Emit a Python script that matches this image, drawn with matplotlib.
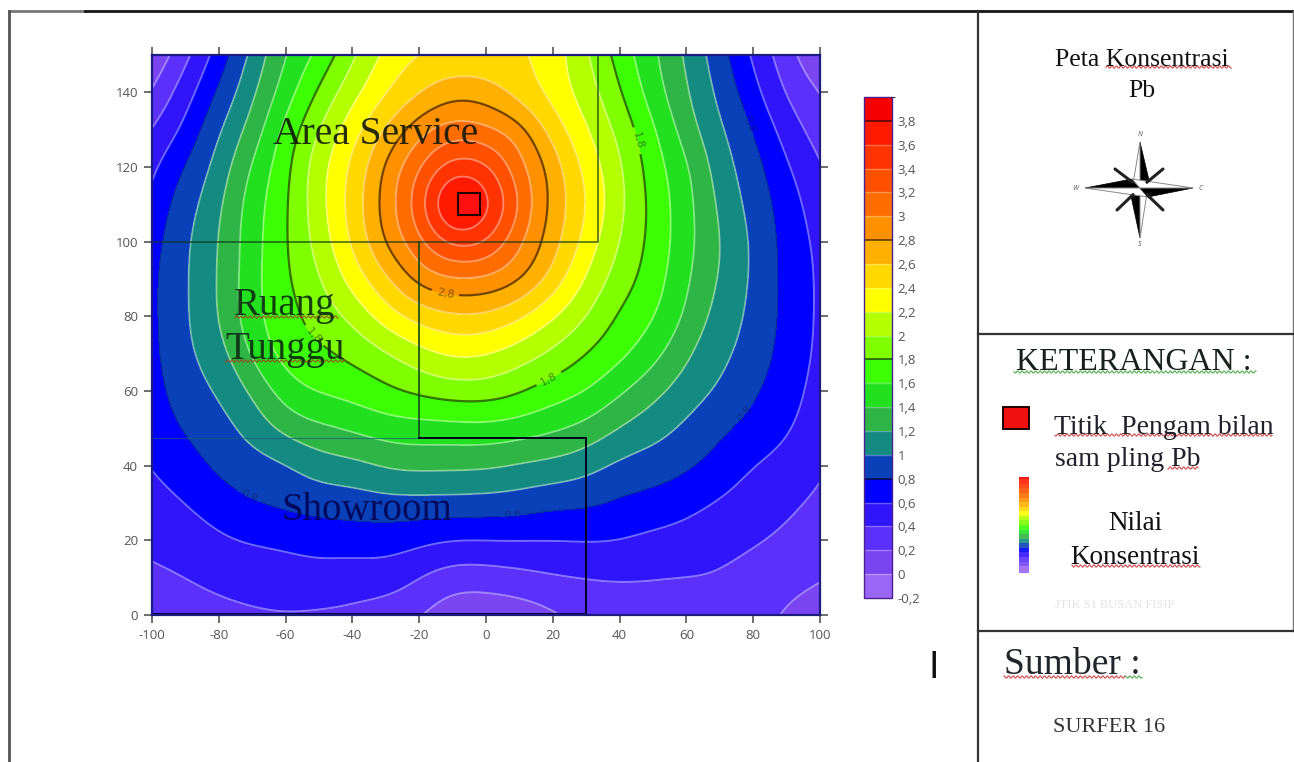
import numpy as np
import matplotlib
matplotlib.use("Agg")
import matplotlib.pyplot as plt
from matplotlib.colors import ListedColormap, BoundaryNorm
from matplotlib.patches import Polygon, Rectangle

plt.rcParams['axes.unicode_minus'] = False

# ---- data ----
grid_y = [0, 10, 20, 30, 40, 50, 60, 70, 80, 90, 100, 110, 120, 130, 140, 150]
grid_x = [-100, -90, -80, -70, -60, -50, -40, -30, -20, -10, 0, 10, 20, 30, 40, 50, 60, 70, 80, 90, 100]

col_m100 = [0.27, 0.36, 0.45, 0.53, 0.61, 0.68, 0.72, 0.75, 0.76, 0.76, 0.72, 0.66, 0.56, 0.41, 0.22, 0.03]
col_m90 = [0.30, 0.40, 0.50, 0.60, 0.71, 0.82, 0.90, 0.96, 0.98, 0.98, 0.97, 0.91, 0.81, 0.65, 0.51, 0.35]
col_m80 = [0.33, 0.46, 0.57, 0.70, 0.84, 0.93, 1.02, 1.12, 1.20, 1.21, 1.20, 1.16, 1.08, 0.98, 0.83, 0.69]
col_m70 = [0.37, 0.50, 0.61, 0.79, 0.92, 1.07, 1.23, 1.43, 1.53, 1.53, 1.52, 1.50, 1.42, 1.28, 1.16, 1.05]
col_m60 = [0.39, 0.51, 0.64, 0.84, 0.98, 1.26, 1.50, 1.68, 1.73, 1.77, 1.78, 1.77, 1.74, 1.66, 1.50, 1.40]
col_m50 = [0.38, 0.52, 0.68, 0.88, 1.10, 1.36, 1.62, 1.76, 1.88, 1.98, 2.08, 2.13, 2.12, 2.00, 1.83, 1.65]
col_m40 = [0.36, 0.50, 0.69, 0.90, 1.14, 1.43, 1.67, 1.85, 2.05, 2.28, 2.43, 2.48, 2.44, 2.32, 2.13, 1.97]
col_m30 = [0.30, 0.50, 0.69, 0.93, 1.22, 1.50, 1.76, 1.98, 2.30, 2.57, 2.80, 2.88, 2.82, 2.62, 2.39, 2.25]
col_m20 = [0.22, 0.40, 0.65, 0.93, 1.25, 1.52, 1.84, 2.13, 2.48, 2.85, 3.15, 3.31, 3.18, 2.91, 2.59, 2.41]
col_m10 = [0.07, 0.30, 0.60, 0.93, 1.24, 1.53, 1.90, 2.23, 2.57, 2.98, 3.43, 3.75, 3.47, 3.08, 2.72, 2.45]
col_0 = [0.05, 0.30, 0.60, 0.92, 1.23, 1.54, 1.90, 2.21, 2.56, 2.96, 3.37, 3.62, 3.41, 3.04, 2.69, 2.45]
col_p10 = [0.08, 0.34, 0.60, 0.90, 1.18, 1.50, 1.82, 2.10, 2.43, 2.80, 3.04, 3.17, 3.07, 2.85, 2.53, 2.43]
col_p20 = [0.18, 0.38, 0.60, 0.85, 1.14, 1.43, 1.70, 1.96, 2.22, 2.52, 2.68, 2.74, 2.70, 2.52, 2.33, 2.30]
col_p30 = [0.27, 0.40, 0.61, 0.83, 1.07, 1.34, 1.60, 1.80, 2.00, 2.18, 2.33, 2.40, 2.34, 2.22, 2.10, 2.03]
col_p40 = [0.30, 0.41, 0.60, 0.77, 0.96, 1.19, 1.43, 1.65, 1.77, 1.90, 1.99, 2.05, 2.03, 1.94, 1.82, 1.72]
col_p50 = [0.33, 0.40, 0.55, 0.73, 0.90, 1.08, 1.26, 1.47, 1.62, 1.70, 1.74, 1.74, 1.70, 1.63, 1.50, 1.44]
col_p60 = [0.35, 0.39, 0.52, 0.66, 0.83, 0.96, 1.10, 1.23, 1.36, 1.43, 1.47, 1.47, 1.43, 1.30, 1.22, 1.17]
col_p70 = [0.35, 0.38, 0.47, 0.58, 0.72, 0.84, 0.97, 1.05, 1.12, 1.18, 1.20, 1.16, 1.10, 1.03, 0.95, 0.88]
col_p80 = [0.28, 0.33, 0.42, 0.51, 0.60, 0.73, 0.83, 0.91, 0.95, 0.97, 0.97, 0.93, 0.88, 0.79, 0.67, 0.57]
col_p90 = [0.18, 0.27, 0.36, 0.44, 0.53, 0.62, 0.68, 0.72, 0.74, 0.74, 0.73, 0.70, 0.62, 0.51, 0.38, 0.28]
col_p100 = [0.08, 0.22, 0.29, 0.36, 0.43, 0.49, 0.53, 0.56, 0.57, 0.57, 0.55, 0.49, 0.42, 0.31, 0.20, 0.02]

level_values = [-0.2, 0, 0.2, 0.4, 0.6, 0.8, 1, 1.2, 1.4, 1.6, 1.8, 2, 2.2, 2.4, 2.6, 2.8, 3, 3.2, 3.4, 3.6, 3.8, 4]
band_colors = ['#9a66f5', '#7a45f0', '#5a30fa', '#3014fa', '#0000ff', '#0a40b8', '#148a80',
               '#2eb545', '#22e020', '#3cff05', '#7fff00', '#b4ff00', '#ffff00', '#ffd800',
               '#ffb000', '#ff9000', '#ff6c00', '#ff5000', '#ff3400', '#ff1a00', '#f50000']
major_levels = [0.8, 1.8, 2.8, 3.8]
x_ticks = [-100, -80, -60, -40, -20, 0, 20, 40, 60, 80, 100]
y_ticks = [0, 20, 40, 60, 80, 100, 120, 140]
bar_ticks = level_values[:-1]
sample_point = (-5, 110)

# ---- figure ----
W, H = 1294, 762
fig = plt.figure(figsize=(W / 100, H / 100), dpi=100, facecolor='white')
SERIF = ['Liberation Serif', 'DejaVu Serif']
SANS = ['Open Sans', 'DejaVu Sans']


def px_axes(x0, y0, x1, y1):
    return fig.add_axes([x0 / W, 1 - y1 / H, (x1 - x0) / W, (y1 - y0) / H])


def spline_matrix(knots, fine):
    """Natural cubic spline weights mapping values at knots to values at fine."""
    knots = np.asarray(knots, float)
    n = len(knots)
    h = np.diff(knots)
    A = np.zeros((n, n))
    B = np.zeros((n, n))
    A[0, 0] = A[-1, -1] = 1
    for i in range(1, n - 1):
        A[i, i - 1:i + 2] = [h[i - 1], 2 * (h[i - 1] + h[i]), h[i]]
        B[i, i - 1:i + 2] = [6 / h[i - 1], -6 / h[i - 1] - 6 / h[i], 6 / h[i]]
    M2 = np.linalg.solve(A, B)
    idx = np.clip(np.searchsorted(knots, fine) - 1, 0, n - 2)
    t1 = (knots[idx + 1] - fine) / h[idx]
    t0 = (fine - knots[idx]) / h[idx]
    out = np.zeros((len(fine), n))
    rows = np.arange(len(fine))
    out[rows, idx] += t1
    out[rows, idx + 1] += t0
    out += ((t1 ** 3 - t1) * h[idx] ** 2 / 6)[:, None] * M2[idx]
    out += ((t0 ** 3 - t0) * h[idx] ** 2 / 6)[:, None] * M2[idx + 1]
    return out


def gauss_smooth(a, sigma_cells):
    r = int(3 * sigma_cells)
    k = np.exp(-0.5 * (np.arange(-r, r + 1) / sigma_cells) ** 2)
    k /= k.sum()
    p = np.pad(a, r, mode='reflect', reflect_type='odd')
    p = np.apply_along_axis(lambda v: np.convolve(v, k, mode='same'), 0, p)
    p = np.apply_along_axis(lambda v: np.convolve(v, k, mode='same'), 1, p)
    return p[r:-r, r:-r]


ax = px_axes(152, 55, 820, 615)
columns = [col_m100, col_m90, col_m80, col_m70, col_m60, col_m50, col_m40, col_m30, col_m20, col_m10, col_0,
           col_p10, col_p20, col_p30, col_p40, col_p50, col_p60, col_p70, col_p80, col_p90, col_p100]
Z = np.array(columns).T
fx = np.linspace(grid_x[0], grid_x[-1], 401)
fy = np.linspace(grid_y[0], grid_y[-1], 301)
Zf = spline_matrix(grid_y, fy) @ Z @ spline_matrix(grid_x, fx).T
# even out the reading noise of the hand-read grid, leaving the narrow peak as read
weight = np.clip((3.0 - Zf) / 0.6, 0, 1)
Zf = weight * gauss_smooth(Zf, 8) + (1 - weight) * Zf

cmap = ListedColormap(band_colors)
norm = BoundaryNorm(level_values, cmap.N)
cf = ax.contourf(fx, fy, Zf, levels=level_values, cmap=cmap, norm=norm, extend='neither')
minor_levels = [v for v in level_values if v not in major_levels]
ax.contour(fx, fy, Zf, levels=minor_levels, colors='white', linewidths=1.3, alpha=0.42)
maj = ax.contour(fx, fy, Zf, levels=[0.8], colors='#001070', linewidths=0.5, alpha=0.6)
maj2 = ax.contour(fx, fy, Zf, levels=[1.8, 2.8], colors='#000000', linewidths=1.6, alpha=0.55)
ax.clabel(maj2, fmt=lambda v: f'{v:.1f}'.replace('.', ','), fontsize=8, colors='#222222',
          manual=[(45, 127), (19, 63), (-50, 76), (-12, 87)], inline=True)
ax.clabel(maj, fmt=lambda v: f'{v:.1f}'.replace('.', ','), fontsize=8, colors='#10206a',
          manual=[(77, 131), (76, 55), (-68, 37), (8, 27)], inline=True)

ax.set_xlim(-100, 100)
ax.set_ylim(0, 150)
ax.set_xticks(x_ticks)
ax.set_yticks(y_ticks)
ax.tick_params(top=True, right=True, length=6, width=1.2, color='#555555', labelcolor='#555555', labelsize=9.5, pad=4)
for lab in ax.get_xticklabels() + ax.get_yticklabels():
    lab.set_fontfamily(SANS)
for s in ax.spines.values():
    s.set_color('#1c1c80')
    s.set_linewidth(1.6)

# room outlines on the map
ax.plot([-100, 33.5, 33.5], [100, 100, 149.4], color='#103818', lw=1.1, alpha=0.8)
ax.plot([-20.2, -20.2], [100, 47.3], color='#104818', lw=1.4, alpha=0.85)
ax.plot([-100, -20.2], [47.3, 47.3], color='#1a5a80', lw=0.8, alpha=0.7)
ax.plot([-20.2, 29.8, 29.8], [47.3, 47.3, 0.3], color='#000020', lw=1.4)
ax.plot([-100, 29.8], [0.4, 0.4], color='#000030', lw=1.4)
ax.plot(*sample_point, marker='s', ms=16.5, mfc='#ff1010', mec='#200000', mew=1.5)

# colour bar
cax = px_axes(864, 97, 892, 598)
cb = fig.colorbar(cf, cax=cax, spacing='uniform', ticks=bar_ticks)
cb.ax.set_yticklabels([f'{v:g}'.replace('.', ',') for v in bar_ticks], fontsize=9.5, color='#555555', fontfamily=SANS)
cb.ax.tick_params(length=0, pad=4)
cb.outline.set_edgecolor('#4a2090')
cb.outline.set_linewidth(1)
for v in minor_levels[1:-1]:
    cb.ax.axhline(v, color='white', lw=1, alpha=0.3)
for v in major_levels:
    cb.ax.axhline(v, color='black', lw=1.4, alpha=0.55)

# pixel overlay for the page layout
ov = fig.add_axes([0, 0, 1, 1], facecolor='none', zorder=5)
ov.set_axis_off()

# gradient key in the legend panel
ov.imshow(np.array(level_values[:-1])[::-1].reshape(-1, 1), cmap=cmap, norm=norm, aspect='auto',
          extent=(1019, 1029, 573, 477), interpolation='bilinear', alpha=0.9)
ov.set_xlim(0, W)
ov.set_ylim(H, 0)

# frame
ov.plot([9, 85], [11, 11], color='#777777', lw=2)
ov.plot([85, W], [11, 11], color='#151515', lw=2)
ov.plot([9, 9], [11, H], color='#555555', lw=2)
ov.plot([978, 978], [11, H], color='#333333', lw=1.6)
ov.plot([1293, 1293], [11, 631], color='#777777', lw=1)
ov.plot([978, W], [334, 334], color='#333333', lw=1.6)
ov.plot([978, W], [631, 631], color='#333333', lw=1.6)


def txt(x, y, s, size, color='#111111', ha='center', alpha=1.0, **kw):
    ov.text(x, y, s, fontsize=size, color=color, ha=ha, va='center', family=SERIF, alpha=alpha, **kw)


def wavy(x0, x1, y, color):
    xs = np.arange(x0, x1 + 0.5, 0.5)
    ov.plot(xs, y + 1.1 * np.sin(xs * 1.4), color=color, lw=0.9, alpha=0.8)


RED = '#c83030'
GREEN = '#40a040'

# map labels
txt(376, 134, 'Area Service', 28.5, color='#101808', alpha=0.9)
txt(285, 306, 'Ruang', 28, color='#0a2a10', alpha=0.9)
wavy(235, 338, 317, '#a04020')
txt(285, 349, 'Tunggu', 28, color='#0a2a10', alpha=0.9)
wavy(225, 345, 361, '#a04020')
txt(367, 510, 'Showroom', 28, color='#000050', alpha=0.85)

ov.text(934, 668, 'I', fontsize=27, color='#111111', ha='center', va='center', family=['Liberation Sans', 'DejaVu Sans'])

# north panel
txt(1142, 60, 'Peta Konsentrasi', 18.5)
wavy(1106, 1231, 67, RED)
txt(1142, 91, 'Pb', 18.5)

cx, cy = 1140, 188
for dx, dy in [(-25, -19), (23, -19), (-23, 22), (23, 22)]:
    ov.plot([cx + dx * 0.3, cx + dx], [cy + dy * 0.3, cy + dy], color='#222222', lw=2.2, solid_capstyle='round')
arms = [((0, -46), (9, -8)), ((0, 50), (-9, 8)), ((-55, 0), (-8, -9)), ((53, 0), (8, 9))]
for tip, sh in arms:
    ov.add_patch(Polygon([(cx + tip[0], cy + tip[1]), (cx + sh[0], cy + sh[1]), (cx, cy)], fc='#000000', ec='#000000', lw=0.5))
    ov.add_patch(Polygon([(cx + tip[0], cy + tip[1]), (cx - sh[0], cy - sh[1]), (cx, cy)], fc='#ffffff', ec='#888888', lw=0.7))
for x, y, s in [(1140, 134, 'N'), (1075, 189, 'W'), (1201, 189, 'C'), (1140, 244, 'S')]:
    ov.text(x, y, s, fontsize=5, color='#555555', ha='center', va='center', style='italic', family=SANS)

# legend panel
txt(1134, 363, 'KETERANGAN :', 23, color='#18201c')
wavy(1014, 1256, 372, GREEN)
ov.add_patch(Rectangle((1003, 407), 26, 22, fc='#f01010', ec='#200000', lw=1.4))
txt(1164, 427, 'Titik  Pengam bilan', 20, color='#20202a')
wavy(1055, 1272, 435, RED)
txt(1055, 459, 'sam pling Pb', 20, color='#20202a', ha='left')
wavy(1168, 1198, 468, RED)
txt(1135, 524, 'Nilai', 19.5)
txt(1135, 557, 'Konsentrasi', 19.5)
wavy(1072, 1200, 566, RED)
txt(1115, 605, 'JTIK S1 BUSAN FISIP', 9, color='#e4e4e4')

# source panel
txt(1004, 665, 'Sumber :', 27, color='#22262a', ha='left')
wavy(1004, 1125, 677, RED)
wavy(1125, 1142, 677, GREEN)
txt(1109, 727, 'SURFER 16', 16, color='#333338')

fig.savefig('out.png', dpi=100, facecolor='white')
